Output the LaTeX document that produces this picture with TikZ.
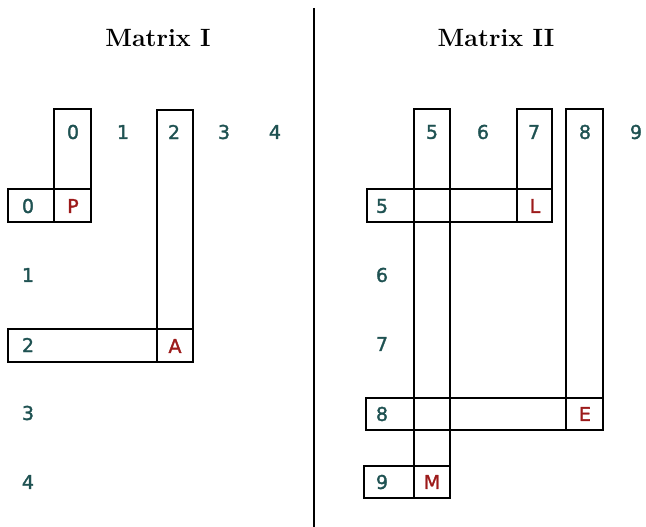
\documentclass[tikz,border=0pt]{standalone}
\usepackage{fontspec}
\newfontfamily\idxfont[FakeBold=1.6]{DejaVu Sans}
\usepackage{tikz}
\definecolor{idxteal}{HTML}{1F5252}
\definecolor{cellred}{HTML}{9C1A1A}

\begin{document}
\begin{tikzpicture}[
	x=1pt,y=-1pt,
	idx/.style={font=\idxfont\fontsize{19}{19}\selectfont,text=idxteal,inner sep=0pt},
	cell/.style={font=\idxfont\fontsize{19}{19}\selectfont,text=cellred,inner sep=0pt},
	title/.style={font=\fontsize{25}{25}\selectfont\bfseries},
	box/.style={draw,line width=1.2pt}
	]
		\useasboundingbox (0,0) rectangle (646,527);
		
		% matrix I
		\path (158,38) node[title] (titleI) {Matrix I};
		\draw[box] (54,109) rectangle (91,222);
		\draw[box] (8,189) rectangle (91,222);
		\draw[box] (157,110) rectangle (193,362);
		\draw[box] (8,329) rectangle (193,362);
		
		\path (73,132) node[idx] (colA0) {0};
		\path (123,132) node[idx] (colA1) {1};
		\path (174,132) node[idx] (colA2) {2};
		\path (224,132) node[idx] (colA3) {3};
		\path (275,132) node[idx] (colA4) {4};
		
		\path (28,206) node[idx] (rowA0) {0};
		\path (28,275) node[idx] (rowA1) {1};
		\path (28,345) node[idx] (rowA2) {2};
		\path (28,413) node[idx] (rowA3) {3};
		\path (28,482) node[idx] (rowA4) {4};
		
		\path (73,206) node[cell] (p) {P};
		\path (175,346) node[cell] (a) {A};
		
		% divider
		\path (314,8) coordinate (divtop);
		\path (314,527) coordinate (divbot);
		\draw[line width=1.3pt] (divtop) -- (divbot);
		
		% matrix II
		\path (496,38) node[title] (titleII) {Matrix II};
		\draw[box] (414,109) rectangle (450,498);
		\draw[box] (364,466) rectangle (450,498);
		\draw[box] (517,109) rectangle (552,222);
		\draw[box] (367,189) rectangle (552,222);
		\draw[box] (566,109) rectangle (603,430);
		\draw[box] (366,398) rectangle (603,430);
		
		\path (432,132) node[idx] (colB5) {5};
		\path (483,132) node[idx] (colB6) {6};
		\path (534,132) node[idx] (colB7) {7};
		\path (585,132) node[idx] (colB8) {8};
		\path (636,132) node[idx] (colB9) {9};
		
		\path (382,206) node[idx] (rowB5) {5};
		\path (382,275) node[idx] (rowB6) {6};
		\path (382,344) node[idx] (rowB7) {7};
		\path (382,414) node[idx] (rowB8) {8};
		\path (382,482) node[idx] (rowB9) {9};
		
		\path (535,206) node[cell] (l) {L};
		\path (585,414) node[cell] (e) {E};
		\path (432,482) node[cell] (m) {M};
		
	\end{tikzpicture}
\end{document}
